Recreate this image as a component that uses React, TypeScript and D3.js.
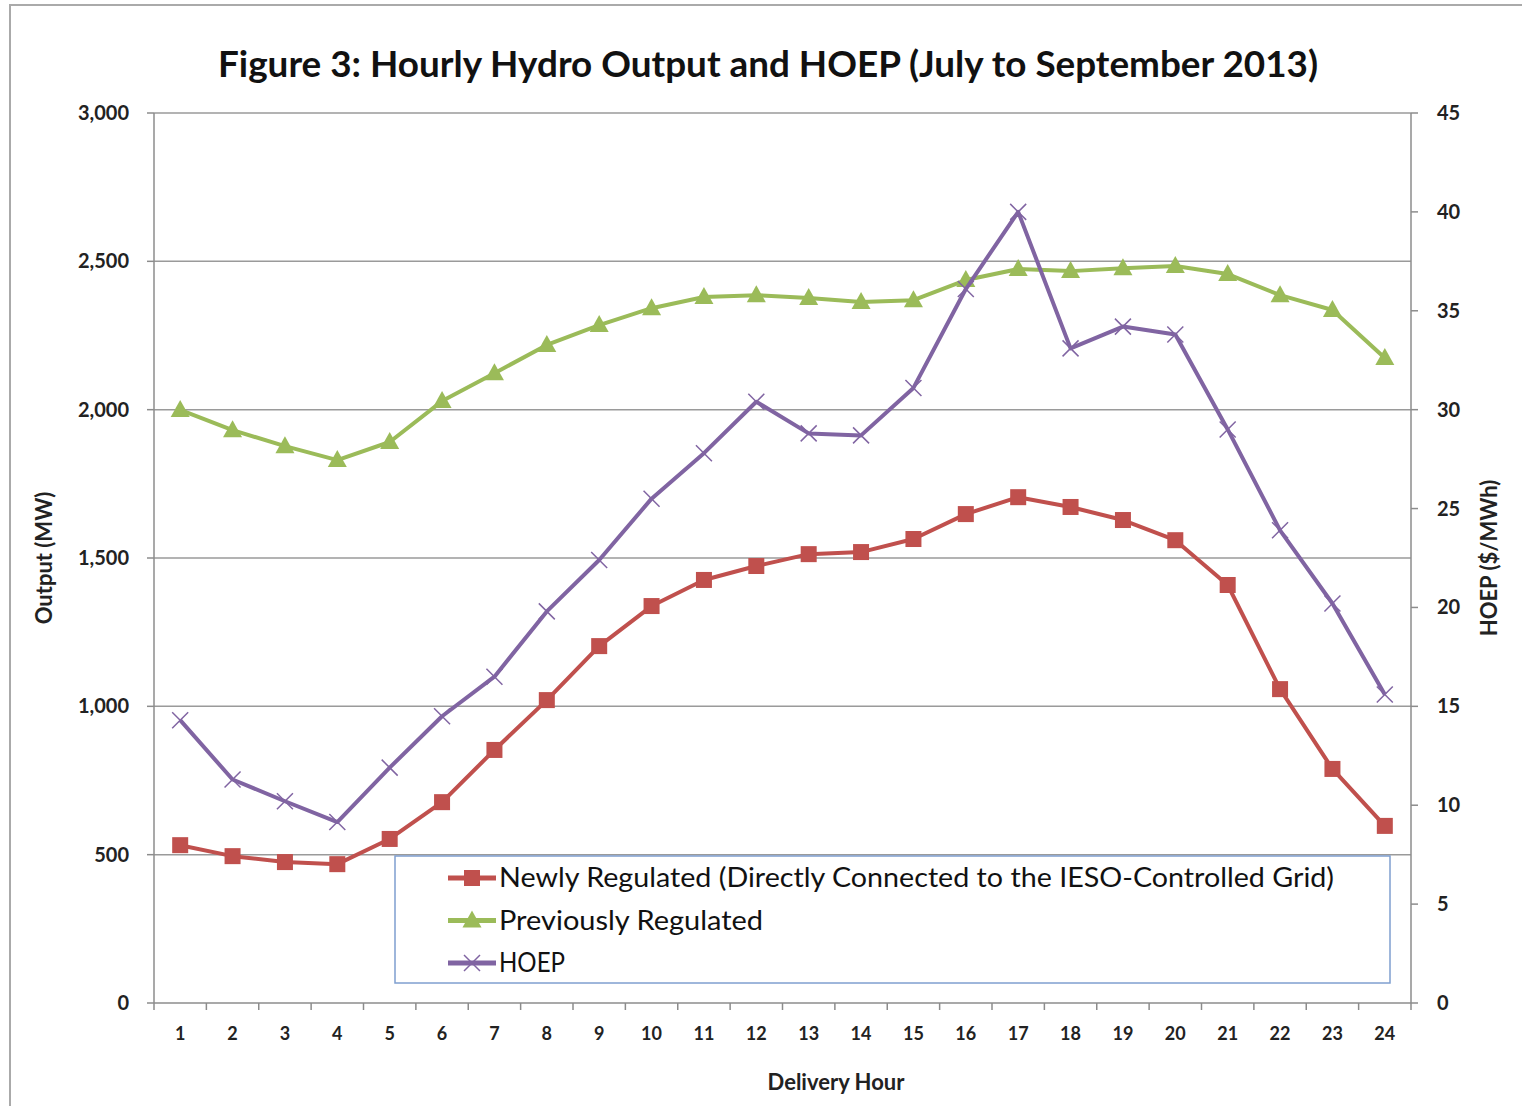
import React from "react";
import * as d3 from "d3";

const hours = d3.range(1, 25).map(String);
const newlyRegulated = [532, 495, 475, 468, 553, 677, 853, 1021, 1203, 1338, 1426, 1473, 1513, 1520, 1564, 1648, 1705, 1672, 1628, 1560, 1409, 1058, 789, 597];
const previouslyRegulated = [1999, 1931, 1877, 1830, 1891, 2029, 2123, 2218, 2285, 2342, 2380, 2386, 2376, 2363, 2369, 2437, 2474, 2467, 2477, 2484, 2457, 2386, 2336, 2174];
const hoep = [14.3, 11.3, 10.2, 9.15, 11.9, 14.5, 16.5, 19.8, 22.4, 25.5, 27.8, 30.4, 28.8, 28.7, 31.1, 36.1, 40.0, 33.1, 34.2, 33.8, 29.0, 23.9, 20.2, 15.6];
const leftTicks = [0, 500, 1000, 1500, 2000, 2500, 3000];
const rightTicks = [0, 5, 10, 15, 20, 25, 30, 35, 40, 45];
const legendLabels = [
  "Newly Regulated (Directly Connected to the IESO-Controlled Grid)",
  "Previously Regulated",
  "HOEP",
];

const RED = "#c0504d";
const GREEN = "#9bbb59";
const PURPLE = "#8064a2";
const FONT = "Lato, 'Open Sans', sans-serif";

const W = 1522;
const H = 1106;
const margin = { left: 154, right: 111, top: 113, bottom: 103 };

function Marker({ kind, x, y }: { kind: string; x: number; y: number }) {
  if (kind === "square") {
    return <rect x={x - 8} y={y - 8} width={16} height={16} fill={RED} />;
  }
  if (kind === "triangle") {
    return <path d={`M${x},${y - 10}L${x + 9.5},${y + 7}L${x - 9.5},${y + 7}Z`} fill={GREEN} />;
  }
  return (
    <path
      d={`M${x - 8},${y - 8}L${x + 8},${y + 8}M${x - 8},${y + 8}L${x + 8},${y - 8}`}
      stroke={PURPLE}
      strokeWidth={1.5}
    />
  );
}

export default function App() {
  const x = d3.scaleBand().domain(hours).range([margin.left, W - margin.right]);
  const yL = d3.scaleLinear().domain([0, 3000]).range([H - margin.bottom, margin.top]);
  const yR = d3.scaleLinear().domain([0, 45]).range([H - margin.bottom, margin.top]);
  const cx = (i: number) => (x(hours[i]) as number) + x.bandwidth() / 2;

  const lineL = d3.line<number>().x((_, i) => cx(i)).y((d) => yL(d));
  const lineR = d3.line<number>().x((_, i) => cx(i)).y((d) => yR(d));

  const series = [
    { data: newlyRegulated, path: lineL(newlyRegulated), color: RED, kind: "square", y: yL },
    { data: previouslyRegulated, path: lineL(previouslyRegulated), color: GREEN, kind: "triangle", y: yL },
    { data: hoep, path: lineR(hoep), color: PURPLE, kind: "x", y: yR },
  ];

  const x0 = margin.left;
  const x1 = W - margin.right;
  const yb = H - margin.bottom;
  const boundaries = d3.range(0, 25).map((i) => margin.left + i * x.step());

  return (
    <svg width={W} height={H} style={{ position: "absolute", left: 0, top: 0, background: "#fff" }}>
      <rect x={10} y={5} width={W} height={H} fill="#fff" stroke="#aaa" strokeWidth={2} />
      <text x={768} y={77} textAnchor="middle" fontFamily={FONT} fontWeight="bold" fontSize={36}
        textLength={1100} lengthAdjust="spacingAndGlyphs" fill="#111">
        Figure 3: Hourly Hydro Output and HOEP (July to September 2013)
      </text>

      {/* gridlines */}
      {leftTicks.filter((t) => t > 0).map((t) => (
        <line key={t} x1={x0} x2={x1} y1={yL(t)} y2={yL(t)} stroke="#9a9a9a" strokeWidth={1.5} />
      ))}

      {/* axes */}
      <line x1={x0} x2={x0} y1={margin.top} y2={yb} stroke="#8c8c8c" strokeWidth={1.5} />
      <line x1={x1} x2={x1} y1={margin.top} y2={yb} stroke="#8c8c8c" strokeWidth={1.5} />
      <line x1={x0} x2={x1} y1={yb} y2={yb} stroke="#8c8c8c" strokeWidth={1.5} />
      {leftTicks.map((t) => (
        <g key={t}>
          <line x1={x0 - 7} x2={x0} y1={yL(t)} y2={yL(t)} stroke="#8c8c8c" strokeWidth={1.5} />
          <text x={129} y={yL(t) + 7} textAnchor="end" fontFamily={FONT} fontWeight="bold" fontSize={20} fill="#222">
            {d3.format(",")(t)}
          </text>
        </g>
      ))}
      {rightTicks.map((t) => (
        <g key={t}>
          <line x1={x1} x2={x1 + 7} y1={yR(t)} y2={yR(t)} stroke="#8c8c8c" strokeWidth={1.5} />
          <text x={1437} y={yR(t) + 7} fontFamily={FONT} fontWeight="bold" fontSize={20} fill="#222">
            {t}
          </text>
        </g>
      ))}
      {boundaries.map((b, i) => (
        <line key={i} x1={b} x2={b} y1={yb} y2={yb + 7} stroke="#8c8c8c" strokeWidth={1.5} />
      ))}
      {hours.map((h, i) => (
        <text key={h} x={cx(i)} y={1040} textAnchor="middle" fontFamily={FONT} fontWeight="bold" fontSize={18} fill="#222">
          {h}
        </text>
      ))}
      <text x={836} y={1090} textAnchor="middle" fontFamily={FONT} fontWeight="bold" fontSize={22} fill="#222">
        Delivery Hour
      </text>
      <text transform="translate(52,558) rotate(-90)" textAnchor="middle" fontFamily={FONT} fontWeight="bold" fontSize={22} fill="#222">
        Output (MW)
      </text>
      <text transform="translate(1497,558) rotate(-90)" textAnchor="middle" fontFamily={FONT} fontWeight="bold" fontSize={22} fill="#222">
        HOEP ($/MWh)
      </text>

      {/* series */}
      {series.map((s, k) => (
        <g key={k}>
          <path d={s.path ?? ""} fill="none" stroke={s.color} strokeWidth={4} strokeLinejoin="round" />
          {s.data.map((d, i) => (
            <Marker key={i} kind={s.kind} x={cx(i)} y={s.y(d)} />
          ))}
        </g>
      ))}

      {/* legend */}
      <rect x={395} y={856} width={995} height={127} fill="#fff" stroke="#7f9fcf" strokeWidth={1.5} />
      {legendLabels.map((label, i) => {
        const ly = 878 + i * 42.5;
        const s = series[i];
        return (
          <g key={label}>
            <line x1={448} x2={496} y1={ly} y2={ly} stroke={s.color} strokeWidth={5} />
            <Marker kind={s.kind} x={472} y={ly} />
            <text x={499} y={ly + 9} fontFamily={FONT} fontSize={27} fill="#111"
              textLength={i === 0 ? 835 : i === 1 ? 264 : 66} lengthAdjust="spacingAndGlyphs">
              {label}
            </text>
          </g>
        );
      })}
    </svg>
  );
}
